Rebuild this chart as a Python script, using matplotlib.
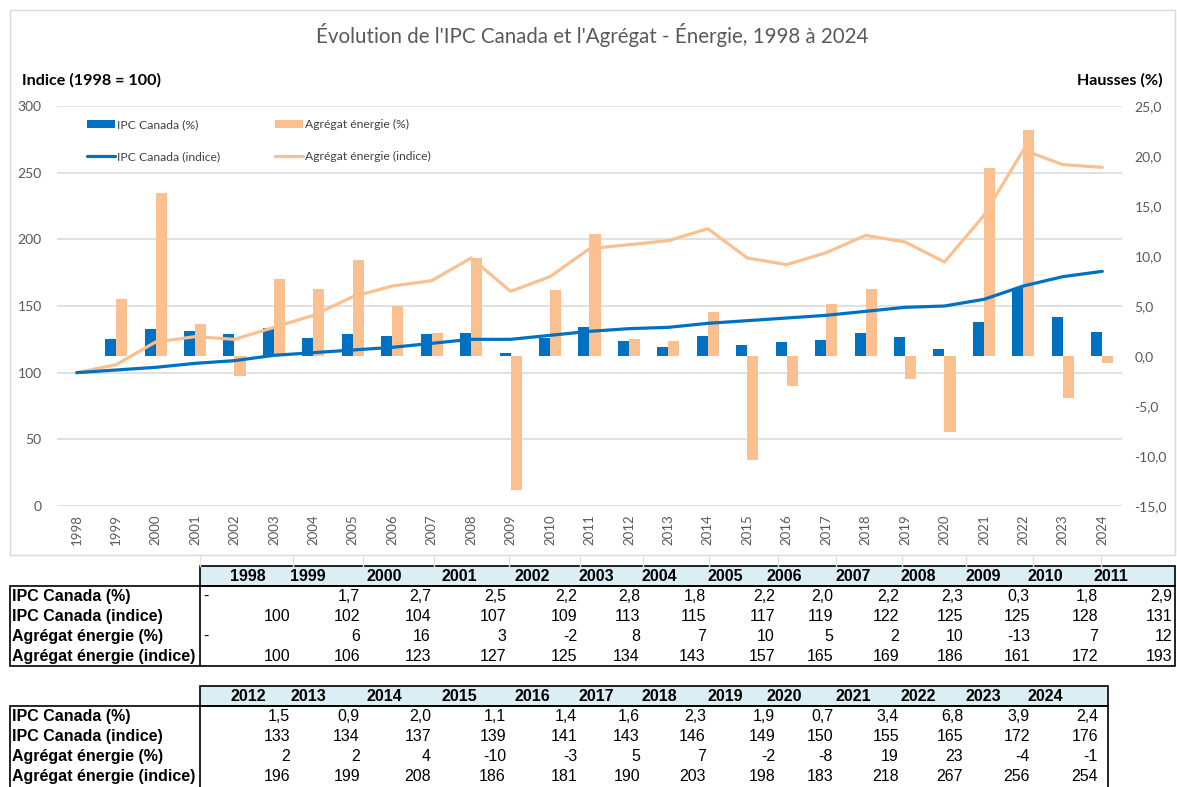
import matplotlib
matplotlib.use("Agg")
import matplotlib.pyplot as plt
import matplotlib.transforms as mtransforms
from matplotlib.patches import Rectangle
from matplotlib.lines import Line2D
from matplotlib.ticker import FuncFormatter
import numpy as np

# ---------------- data ----------------
years = list(range(1998, 2025))
ipc_pct = [np.nan, 1.7, 2.7, 2.5, 2.2, 2.8, 1.8, 2.2, 2.0, 2.2, 2.3, 0.3, 1.8, 2.9,
           1.5, 0.9, 2.0, 1.1, 1.4, 1.6, 2.3, 1.9, 0.7, 3.4, 6.8, 3.9, 2.4]
ipc_idx = [100, 102, 104, 107, 109, 113, 115, 117, 119, 122, 125, 125, 128, 131,
           133, 134, 137, 139, 141, 143, 146, 149, 150, 155, 165, 172, 176]
energie_pct = [np.nan, 5.7, 16.3, 3.2, -2.0, 7.7, 6.7, 9.6, 5.0, 2.3, 9.8, -13.4, 6.6, 12.2,
               1.7, 1.5, 4.4, -10.4, -3.0, 5.2, 6.7, -2.3, -7.6, 18.8, 22.6, -4.2, -0.7]
energie_idx = [100, 106, 123, 127, 125, 134, 143, 157, 165, 169, 186, 161, 172, 193,
               196, 199, 208, 186, 181, 190, 203, 198, 183, 218, 267, 256, 254]

series_names = ["IPC Canada (%)", "Agrégat énergie (%)",
                "IPC Canada (indice)", "Agrégat énergie (indice)"]
title = "Évolution de l'IPC Canada et l'Agrégat - Énergie, 1998 à 2024"
left_title = "Indice (1998 = 100)"
right_title = "Hausses (%)"
row_labels = ["IPC Canada (%)", "IPC Canada (indice)",
              "Agrégat énergie (%)", "Agrégat énergie (indice)"]

# ---------------- style ----------------
BLUE = "#0070C0"
ORANGE = "#FAC08F"
GRID = "#D9D9D9"
TICK = "#595959"
CHART_FONT = ["Lato", "DejaVu Sans"]
TABLE_FONT = ["Liberation Sans", "DejaVu Sans"]
TFS = 11.5

W, H = 1177, 787
fig = plt.figure(figsize=(W / 100, H / 100), dpi=100)


def fx(x):
    return x / W


def fy(y):
    return 1 - y / H


# chart border
fig.add_artist(Rectangle((fx(10), fy(555)), fx(1175) - fx(10), fy(10) - fy(555),
                         transform=fig.transFigure, fill=False, edgecolor=GRID, lw=1))

ax = fig.add_axes([fx(57), fy(506), fx(1122) - fx(57), fy(106) - fy(506)])
ax2 = ax.twinx()

x = np.arange(len(years))
bw = 0.28
b1 = ax.bar(x - bw / 2, ipc_pct, bw, color=BLUE, zorder=3)
b2 = ax.bar(x + bw / 2, energie_pct, bw, color=ORANGE, zorder=3)
l1, = ax2.plot(x, ipc_idx, color=BLUE, lw=2.3, solid_capstyle="round", zorder=3)
l2, = ax2.plot(x, energie_idx, color=ORANGE, lw=2.3, solid_capstyle="round", zorder=2)

ax2.set_ylim(0, 300)

# gridlines (from the left index axis), drawn behind the bars
trans = mtransforms.blended_transform_factory(ax.transAxes, ax2.transData)
for v in range(0, 301, 50):
    ax.add_line(Line2D([0, 1], [v, v], transform=trans, color=GRID, lw=1.1, zorder=0))
ax.set_xlim(-0.5, len(years) - 0.5)
ax.set_ylim(-15, 25)

ax.yaxis.tick_right()
ax2.yaxis.tick_left()
ax.set_yticks(range(-15, 26, 5))
ax2.set_yticks(range(0, 301, 50))
ax.yaxis.set_major_formatter(FuncFormatter(lambda v, p: f"{v:.1f}".replace(".", ",")))
ax.set_xticks(x)
ax.set_xticklabels([str(y) for y in years], rotation=90)

for a in (ax, ax2):
    for s in a.spines.values():
        s.set_visible(False)
ax.tick_params(axis="y", length=0, pad=9, labelcolor=TICK, labelsize=10)
ax2.tick_params(axis="y", length=0, pad=11, labelcolor=TICK, labelsize=10)
ax.tick_params(axis="x", length=0, pad=6, labelcolor=TICK, labelsize=9.5)
for lab in ax.get_yticklabels() + ax2.get_yticklabels() + ax.get_xticklabels():
    lab.set_fontfamily(CHART_FONT)

leg = ax2.legend(handles=[b1, l1, b2, l2],
                 labels=[series_names[0], series_names[2], series_names[1], series_names[3]],
                 ncol=2, loc="upper left", bbox_to_anchor=(fx(87), fy(119)),
                 bbox_transform=fig.transFigure, frameon=False, borderpad=0,
                 borderaxespad=0, handlelength=2.3, handletextpad=0.15,
                 labelspacing=1.75, columnspacing=4.6,
                 prop={"family": CHART_FONT, "size": 8.7})
for t in leg.get_texts():
    t.set_color("#404040")

fig.text(fx(592), fy(35), title, ha="center", va="center", fontsize=14.8,
         color=TICK, family=CHART_FONT)
fig.text(fx(22), fy(80), left_title, ha="left", va="center", fontsize=11.6,
         fontweight="bold", color="black", family=CHART_FONT)
fig.text(fx(1163), fy(80), right_title, ha="right", va="center", fontsize=11.6,
         fontweight="bold", color="black", family=CHART_FONT)

# ---------------- tables ----------------
val_right = [290, 360, 431, 506, 577, 640, 706, 775, 833, 899, 963, 1030, 1098, 1172]
head_ctr = [248, 308, 384, 459, 532, 596, 659, 725, 784, 853, 918, 983, 1045, 1111]
LABEL_X = 12
SEP_X = 200


def fmt_pct1(v):
    return "-" if np.isnan(v) else f"{v:.1f}".replace(".", ",")


def fmt_int(v):
    return "-" if np.isnan(v) else f"{int(np.floor(v + 0.5))}"


def draw_table(idx, top, right, bottom):
    hdr_bot = top + 20
    fig.add_artist(Rectangle((fx(SEP_X), fy(hdr_bot)), fx(right) - fx(SEP_X), fy(top) - fy(hdr_bot),
                             transform=fig.transFigure, facecolor="#DAEEF3",
                             edgecolor="black", lw=1.2))
    fig.add_artist(Rectangle((fx(10), fy(bottom)), fx(right) - fx(10), fy(hdr_bot) - fy(bottom),
                             transform=fig.transFigure, fill=False, edgecolor="black", lw=1.2))
    fig.add_artist(Line2D([fx(SEP_X), fx(SEP_X)], [fy(hdr_bot), fy(bottom)],
                          transform=fig.transFigure, color="black", lw=1.2))
    rows = [[fmt_pct1(ipc_pct[i]) for i in idx],
            [fmt_int(ipc_idx[i]) for i in idx],
            [fmt_int(energie_pct[i]) for i in idx],
            [fmt_int(energie_idx[i]) for i in idx]]
    for c, i in enumerate(idx):
        fig.text(fx(head_ctr[c]), fy(top + 10.5), str(years[i]), ha="center", va="center",
                 fontsize=TFS, fontweight="bold", family=TABLE_FONT)
    for r in range(4):
        yc = hdr_bot + 10.5 + 20 * r
        fig.text(fx(LABEL_X), fy(yc), row_labels[r], ha="left", va="center",
                 fontsize=TFS, fontweight="bold", family=TABLE_FONT)
        for c, i in enumerate(idx):
            s = rows[r][c]
            if s == "-":
                fig.text(fx(SEP_X + 3), fy(yc), s, ha="left", va="center",
                         fontsize=TFS, family=TABLE_FONT)
            else:
                fig.text(fx(val_right[c]), fy(yc), s, ha="right", va="center",
                         fontsize=TFS, family=TABLE_FONT)


# faint spreadsheet cell lines between chart and first table
for xe in [SEP_X] + [v + 3 for v in val_right[:-1]]:
    fig.add_artist(Line2D([fx(xe), fx(xe)], [fy(556), fy(566)], transform=fig.transFigure,
                          color="#E0E0E0", lw=1))

draw_table(list(range(0, 14)), 566, 1175, 666)
draw_table(list(range(14, 27)), 686, 1108, 792)

fig.savefig("out.png", dpi=100)
